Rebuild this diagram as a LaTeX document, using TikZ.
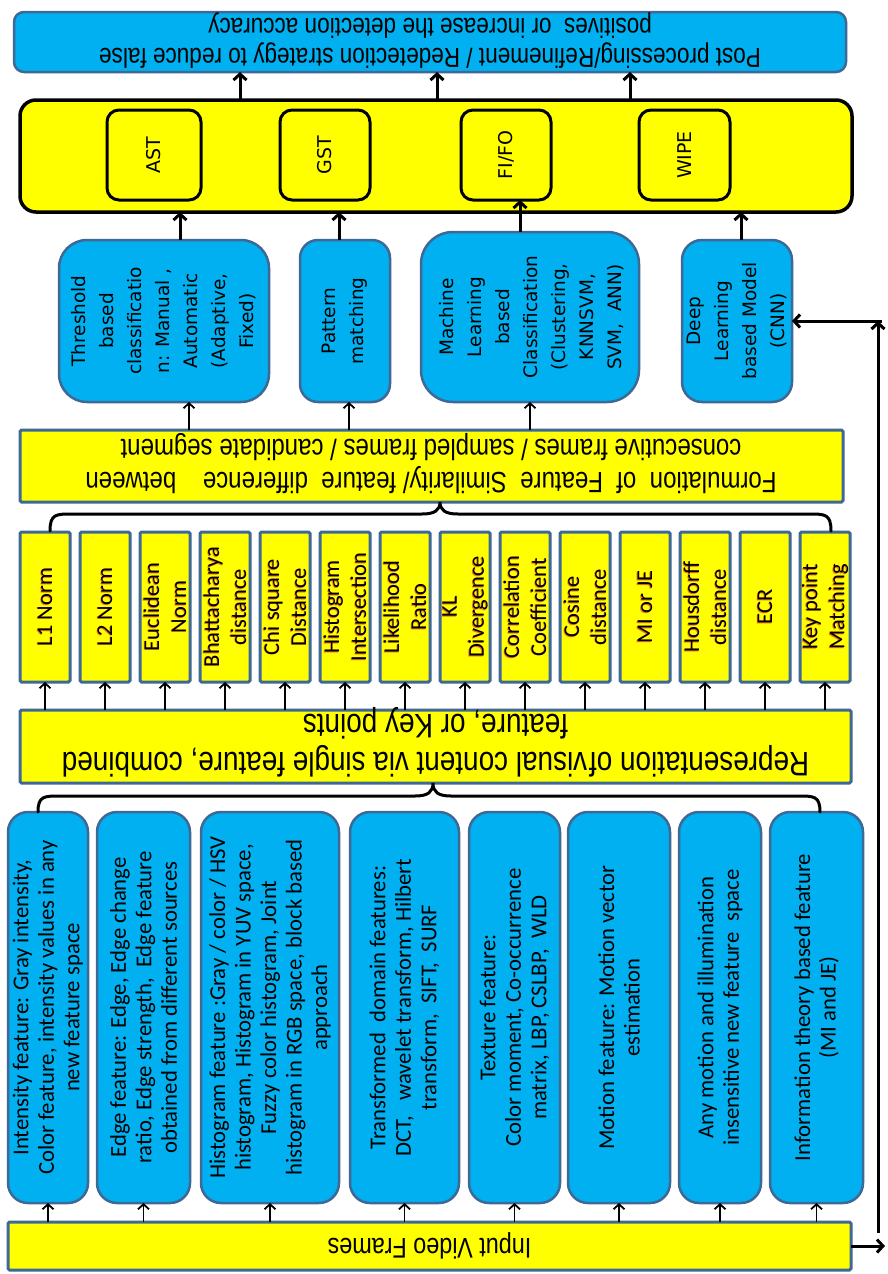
\documentclass[tikz,border=0pt]{standalone}
\usepackage{fontspec}
\setmainfont{Carlito}
\newfontfamily\narrowfont[FakeStretch=0.82]{Liberation Sans}
\newfontfamily\widefont{DejaVu Sans}
\usetikzlibrary{arrows.meta,fit}
\definecolor{boxblue}{RGB}{0,176,240}
\definecolor{edgeblue}{RGB}{62,104,150}
\definecolor{boxyellow}{RGB}{255,255,0}
\definecolor{shadoworange}{RGB}{235,120,30}
\begin{document}
\begin{tikzpicture}[x=1pt,y=-1pt,
  every node/.style={inner sep=0pt,outer sep=0pt},
  bluebox/.style={draw=edgeblue,line width=2.5pt,fill=boxblue,rounded corners=#1},
  bluebox/.default=18pt,
  yelbox/.style={draw=edgeblue,line width=3pt,fill=boxyellow,rounded corners=1.5pt},
  classframe/.style={draw=black,line width=3.5pt,fill=boxyellow,rounded corners=16pt},
  classbox/.style={draw=black,line width=3pt,fill=boxyellow,rounded corners=12pt},
  featuretext/.style={rotate=90,align=center,font=\fontsize{22.7}{25.5}\selectfont},
  methodtext/.style={rotate=90,align=center,font=\widefont\fontsize{18.5}{28}\selectfont},
  metrictext/.style={rotate=90,align=center,font=\fontsize{22.5}{27}\selectfont},
  classtext/.style={rotate=90,align=center,font=\widefont\fontsize{19}{22}\selectfont},
  widetext/.style={rotate=180,align=center,font=\narrowfont\fontsize{27.5}{30}\selectfont},
  thinarrow/.style={line width=1.8pt,-{Straight Barb[length=5pt,width=11pt]}},
  thickarrow/.style={line width=3pt,-{Straight Barb[length=6pt,width=13pt]}},
  brace/.style={line width=3pt,line cap=round}]

\useasboundingbox (0,0) rectangle (887,1274);
\fill[white] (0,0) rectangle (887,1274);

% ---- post processing (top) ----
\node[bluebox=10pt,fit={(14,12) (846,72)}] (post) {};
\node[widetext] (postt) at (430,41) {Post processing/Refinement / Redetection strategy to reduce false\\positives~ or increase the detection accuracy};

% ---- transition classes ----
\node[classframe,fit={(20,100) (852,212)}] (cls) {};
\node[classbox,fit={(107,110) (201,200)}] (ast) {};
\node[classbox,fit={(280,110) (370,200)}] (gst) {};
\node[classbox,fit={(461,110) (551,200)}] (fifo) {};
\node[classbox,fit={(639,110) (730,200)}] (wipe) {};
\node[classtext] (astt) at (ast.center) {AST};
\node[classtext] (gstt) at (gst.center) {GST};
\node[classtext] (fifot) at (fifo.center) {FI/FO};
\node[classtext] (wipet) at (wipe.center) {WIPE};

% ---- decision methods ----
\node[bluebox=28pt,fit={(59,240) (269,402)}] (thr) {};
\node[bluebox=18pt,fit={(300,240) (390,402)}] (pat) {};
\node[bluebox=32pt,fit={(421,232) (639,402)}] (ml) {};
\node[bluebox=20pt,fit={(682,240) (792,402)}] (deep) {};
\node[methodtext] (thrt) at (thr.center) {Threshold\\based\\classificatio\\n: Manual ,\\Automatic\\(Adaptive,\\Fixed)};
\node[methodtext] (patt) at (pat.center) {Pattern\\matching};
\node[methodtext] (mlt) at ([xshift=2pt]ml.center) {Machine\\Learning\\based\\Classification\\(Clustering,\\KNNSVM,\\SVM,~ ANN)};
\node[methodtext] (deept) at (deep.center) {Deep\\Learning\\based Model\\(CNN)};

% ---- similarity formulation ----
\node[yelbox,fit={(20,430) (843,502)}] (form) {};
\node[widetext,font=\narrowfont\fontsize{29.3}{33}\selectfont] (formt) at (431,464) {Formulation~ of~ Feature~ Similarity/ feature~ difference~~~ between\\consecutive frames / sampled frames / candidate segment};

% ---- similarity measures ----
\foreach \lab [count=\i from 0] in {{L1 Norm},{L2 Norm},{Euclidean\\Norm},{Bhattacharya\\distance},{Chi square\\Distance},{Histogram\\Intersection},{Likelihood\\Ratio},{KL\\Divergence},{Correlation\\Coefficient},{Cosine\\distance},{MI or JE},{Housdorff\\distance},{ECR},{Key point\\Matching}} {
  \node[yelbox,fit={(20+60*\i,532) (70+60*\i,682)}] (m\i) {};
  \node[metrictext,text=shadoworange] (ms\i) at ([shift={(-0.9,0.8)}]m\i.center) {\lab};
  \node[metrictext] (mt\i) at (m\i.center) {\lab};
}

% ---- representation ----
\node[yelbox,fit={(20,710) (851,783)}] (rep) {};
\node[widetext,font=\narrowfont\fontsize{34}{38}\selectfont] (rept) at (435.5,742) {Representation of\hspace{2pt}visual content via single feature, combined\\feature, or Key points};

% ---- features ----
\node[bluebox=20pt,fit={(8,812) (88,1203)}] (f1) {};
\node[bluebox=20pt,fit={(97,812) (190,1203)}] (f2) {};
\node[bluebox=20pt,fit={(201,812) (339,1203)}] (f3) {};
\node[bluebox=20pt,fit={(350,812) (459,1203)}] (f4) {};
\node[bluebox=20pt,fit={(469,812) (560,1203)}] (f5) {};
\node[bluebox=20pt,fit={(568,812) (670,1203)}] (f6) {};
\node[bluebox=20pt,fit={(679,812) (761,1203)}] (f7) {};
\node[bluebox=20pt,fit={(770,812) (863,1203)}] (f8) {};
\node[featuretext] (f1t) at (f1.center) {Intensity feature: Gray intensity,\\Color feature, intensity values in any\\new feature space};
\node[featuretext] (f2t) at (f2.center) {Edge feature: Edge, Edge change\\ratio, Edge strength,~ Edge feature\\obtained from different sources};
\node[featuretext] (f3t) at (f3.center) {Histogram feature :Gray / color / HSV\\histogram, Histogram in YUV space,\\Fuzzy color histogram, Joint\\histogram in RGB space, block based\\approach};
\node[featuretext] (f4t) at (f4.center) {Transformed~ domain features:\\DCT,~~ wavelet transform, Hilbert\\transform,~ SIFT,~ SURF};
\node[featuretext] (f5t) at (f5.center) {Texture feature:\\Color moment, Co-occurrence\\matrix, LBP, CSLBP,~ WLD};
\node[featuretext] (f6t) at (f6.center) {Motion feature: Motion vector\\estimation};
\node[featuretext] (f7t) at (f7.center) {Any motion and illumination\\insensitive new feature~ space};
\node[featuretext] (f8t) at (f8.center) {Information theory based feature\\(MI and JE)};

% ---- input ----
\node[yelbox,fit={(8,1222) (851,1270)}] (input) {};
\node[widetext,font=\narrowfont\fontsize{28.5}{30}\selectfont] (inputt) at (input.center) {Input Video Frames};

% ---- connectors: input to features ----
\foreach \f in {f1,f2,f3,f4,f5,f6,f7,f8}
  \draw[thinarrow] (\f.south |- input.north) -- (\f.south);

% ---- features gathered into representation ----
\coordinate (b2c) at (433,783);
\coordinate (b2l) at (38,812);
\coordinate (b2r) at (820,812);
\draw[brace] (b2l) .. controls (38,796) and (44,796) .. (60,796) -- (415,796)
  .. controls (428,796) and (433,792) .. (b2c)
  .. controls (433,792) and (438,796) .. (451,796) -- (798,796)
  .. controls (814,796) and (820,796) .. (b2r);

% ---- representation to measures ----
\foreach \i in {0,...,13}
  \draw[thinarrow] (m\i.south |- rep.north) -- (m\i.south);

% ---- measures gathered into formulation ----
\coordinate (b1c) at (440,502);
\coordinate (b1l) at (50,531);
\coordinate (b1r) at (831,531);
\draw[brace] (b1l) .. controls (50,514) and (56,514) .. (72,514) -- (422,514)
  .. controls (435,514) and (440,510) .. (b1c)
  .. controls (440,510) and (445,514) .. (458,514) -- (809,514)
  .. controls (825,514) and (831,514) .. (b1r);

% ---- formulation to methods ----
\draw[thinarrow] ([xshift=25pt]thr.south |- form.north) -- ([xshift=25pt]thr.south);
\draw[thinarrow] ([xshift=4pt]pat.south |- form.north) -- ([xshift=4pt]pat.south);
\draw[thinarrow] (ml.south |- form.north) -- (ml.south);

% ---- methods to transition classes ----
\draw[thickarrow] ([xshift=16pt]thr.north) -- ([xshift=16pt]thr.north |- cls.south);
\draw[thickarrow] ([xshift=-6pt]pat.north) -- ([xshift=-6pt]pat.north |- cls.south);
\draw[thickarrow] ([xshift=-10pt]ml.north) -- ([xshift=-10pt]ml.north |- fifo.south);
\draw[thickarrow] ([xshift=4pt]deep.north) -- ([xshift=4pt]deep.north |- cls.south);

% ---- transition classes to post processing ----
\draw[thickarrow] ([xshift=-196pt]cls.north) -- ([xshift=-196pt]cls.north |- post.south);
\draw[thickarrow] ([xshift=1pt]cls.north) -- ([xshift=1pt]cls.north |- post.south);
\draw[thickarrow] ([xshift=194pt]cls.north) -- ([xshift=194pt]cls.north |- post.south);

% ---- frames routed directly to the deep model ----
\coordinate (rend) at (885,1246);
\coordinate (vbot) at (878,1233);
\coordinate (vtop) at (878,321);
\coordinate (corner) at (882,321);
\draw[thickarrow] (input.east) -- (rend);
\draw[thickarrow] (vbot) -- (vtop);
\draw[thickarrow] (corner) -- (deep.east);
\end{tikzpicture}
\end{document}
